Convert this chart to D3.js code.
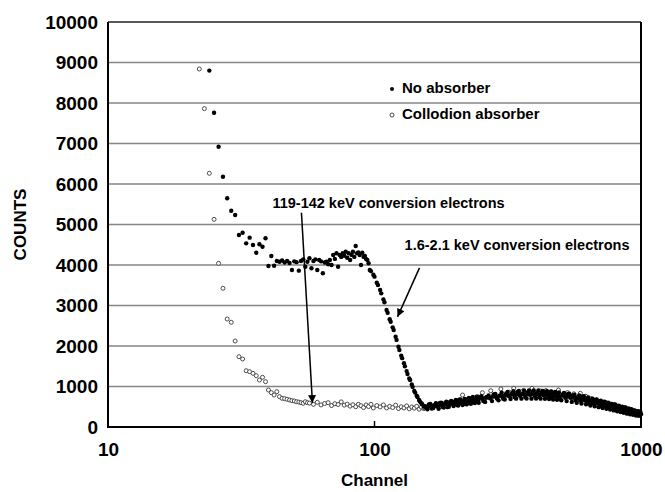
<!DOCTYPE html>
<html>
<head>
<meta charset="utf-8">
<script src="https://cdn.jsdelivr.net/npm/d3@7/dist/d3.min.js"></script>
<style>
  body { margin: 0; background: #fff; }
  svg { display: block; font-family: "Liberation Sans", Arial, sans-serif; font-weight: bold; }
</style>
</head>
<body>
<div id="chart"></div>
<script>
// channel, counts
const noAbsorber = [
  [24,8800],[25,7760],[26,6920],[27,6180],[28,5650],[29,5340],[30,5235],[31,4741],[32,4798],[33,4535],
  [34,4675],[35,4494],[36,4304],[37,4511],[38,4452],[39,4659],[40,3975],[41,4222],[42,3983],[43,4099],
  [44,4080],[45,4110],[46,4060],[47,4100],[48,4050],[49,3877],[50,4090],[51,4070],[52,3860],[53,4100],
  [54,4140],[55,3958],[56,4082],[57,4165],[58,3918],[59,4100],[60,4140],[61,3877],[62,4123],[63,4090],
  [64,3795],[65,4060],[66,4082],[67,4020],[68,4123],[69,4000],[70,4247],[71,4150],[72,4289],[73,3958],
  [74,4247],[75,4200],[76,4289],[77,4230],[78,4328],[79,4180],[80,4289],[81,4123],[82,4250],[83,4328],
  [84,4200],[85,4469],[86,4289],[87,4310],[88,4247],[89,4000],[90,4304],[91,4200],[92,4222],[93,4150],
  [94,4123],[95,4042],[96,3877],[97,3850],[99,3760],[100,3712],[102,3560],[103,3506],
  [105,3383],[106,3300],[108,3150],[109,3080],[111,2890],[112,2820],
  [114,2660],[115,2600],[117,2460],[118,2395],[120,2230],[121,2150],[123,1983],
  [124,1900],[126,1760],[127,1700],[129,1573],[130,1500],[132,1380],[133,1310],
  [135,1200],[136,1160],[138,1050],[139,990],[141,890],[142,850],
  [144,770],[145,740],[147,665],[148,630],[150,585],[151,560],[153,520],[154,505],
  [156,475],[160,555],[164,455],[168,540],[172,510],[176,595],[180,500],[184,575],[188,490],[192,620],
  [196,560],[200,625],[204,543],[208,676],[212,584],[216,632],[220,565],[224,683],[228,621],[232,714],
  [236,612],[240,690],[244,636],[248,737],[256,640],[264,742],[272,706],[280,805],[288,703],[296,775],
  [304,698],[312,826],[320,757],[328,828],[336,737],[344,866],[352,765],[360,823],[368,741],[376,853],
  [384,794],[392,870],[400,760],[408,834],[416,738],[424,846],[432,784],[440,857],[448,755],[456,811],
  [464,732],[472,823],[480,754],[488,830],[496,711],[508,800],[520,722],[532,814],[544,720],[556,780],
  [568,664],[580,732],[592,650],[604,751],[616,659],[628,702],[640,580],[652,663],[664,581],[676,669],
  [688,582],[700,625],[712,518],[724,616],[736,524],[748,557],[760,475],[772,563],[784,486],[796,554],
  [808,443],[820,497],[832,411],[844,490],[856,425],[868,485],[880,375],[892,430],[904,365],[916,442],
  [928,359],[940,411],[952,318],[964,385],[976,322],[988,384],[1000,316],
  [158,440],[162,570],[166,470],[170,590],[174,450],[178,600],[182,480],[186,625],[190,500],[194,645],
  [198,520],[202,670],[206,530],[210,680],[214,545],[218,695],[222,560],[226,715],[230,575],[234,740],
  [238,590],[242,750],[246,600],[252,760],[260,620],[268,780],[276,640],[284,815],[292,660],[300,845],
  [308,680],[316,865],[324,690],[332,885],[340,700],[348,890],[356,700],[364,900],[372,705],[380,905],
  [388,700],[396,900],[404,705],[412,905],[420,700],[428,890],[436,695],[444,885],[452,690],[460,875],
  [468,680],[476,865],[484,670],[492,855],[502,660],[514,840],[526,640],[538,820],[550,620],[562,800],
  [574,600],[586,780],[598,580],[610,760],[622,560],[634,730],[646,530],[658,700],[670,510],[682,680],
  [694,490],[706,650],[718,470],[730,625],[742,450],[754,600],[766,430],[778,570],[790,410],[802,550],
  [814,390],[826,525],[838,370],[850,500],[862,350],[874,480],[886,330],[898,455],[910,315],[922,435],
  [934,300],[946,410],[958,285],[970,390],[982,275],[994,375],
  [155,500],[159,520],[163,505],[167,535],[171,520],[175,550],[179,545],[183,565],[187,560],[191,585],
  [195,575],[199,600],[203,590],[207,620],[211,610],[215,635],[219,625],[223,650],[227,640],[231,665],
  [235,655],[239,680],[243,670],[247,695],[254,700],[262,725],[270,720],[278,750],[286,745],[294,770],
  [302,760],[310,785],[318,775],[326,800],[334,790],[342,810],[350,795],[358,815],[366,800],[374,820],
  [382,805],[390,820],[398,805],[406,818],[414,800],[422,815],[430,795],[438,810],[446,790],[454,800],
  [462,780],[470,790],[478,770],[486,780],[494,760],[514,765],[526,745],[538,750],[550,725],[562,730],
  [574,705],[586,705],[598,680],[610,680],[622,655],[634,655],[646,630],[658,630],[670,605],[682,600],
  [694,580],[706,575],[718,555],[730,550],[742,530],[754,525],[766,505],[778,500],[790,480],[802,480],
  [814,460],[826,455],[838,440],[850,435],[862,420],[874,415],[886,400],[898,395],[910,385],[922,380],
  [934,365],[946,360],[958,350],[970,345],[982,335],[994,330]
];

const collodion = [
  [22,8840],[23,7860],[24,6264],[25,5128],[26,4040],[27,3425],[28,2667],[29,2585],[30,2123],[31,1736],
  [32,1679],[33,1390],[34,1365],[35,1325],[36,1267],[37,1160],[38,1227],[39,1119],[40,914],[41,848],
  [42,790],[43,872],[44,749],[45,709],[46,700],[47,684],[48,667],[49,650],[50,642],[51,625],
  [52,615],[53,600],[54,585],[55,625],[56,600],[57,590],[59,560],[61,610],[63,545],[65,580],
  [67,600],[69,530],[71,575],[73,555],[75,620],[77,540],[79,565],[81,515],[83,550],[85,500],
  [87,560],[89,525],[91,480],[93,545],[95,505],[97,560],[99,470],[102,530],[105,495],[108,545],
  [111,470],[114,510],[117,480],[120,540],[123,455],[126,500],[129,470],[132,520],[135,450],[138,495],
  [141,465],[144,510],[147,440],[150,490],[153,455],[154,470],[160,520],[166,480],[172,555],[178,505],
  [184,590],[190,540],[196,620],[202,575],[208,650],[214,790],[220,680],[226,625],[232,700],[238,650],
  [244,745],[254,847],[262,720],[273,896],[282,780],[298,938],[310,780],[320,860],[333,955],[345,815],
  [360,890],[370,820],[390,955],[400,835],[410,830],[420,890],[430,815],[440,900],[450,820],[460,870],
  [470,800],[490,914],[500,790],[515,780],[530,850],[545,760],[560,820],[575,730],[592,832],[605,690],
  [620,760],[635,660],[650,700],[665,620],[680,665],[695,590],[710,630],[725,560],[740,600],[755,530],
  [770,565],[785,495],[800,540],[815,470],[830,500],[845,440],[860,470],[875,410],[890,440],[905,385],
  [920,410],[935,360],[950,385],[965,340],[980,365],[995,330]
];

const xTickValues = [10, 100, 1000];
const yTickValues = [0, 1000, 2000, 3000, 4000, 5000, 6000, 7000, 8000, 9000, 10000];
const legendLabels = ["No absorber", "Collodion absorber"];

// annotation text + arrow, in channel / counts
const notes = [
  { text: "119-142 keV conversion electrons", at: [41.4, 5500], from: [53.2, 5290], to: [58.5, 590] },
  { text: "1.6-2.1 keV conversion electrons", at: [129.7, 4470], from: [147.5, 3930], to: [122, 2720] }
];

const width = 665, height = 492;
const margin = { top: 22, right: 24, bottom: 65, left: 108 };

const svg = d3.select("#chart").append("svg")
  .attr("width", width)
  .attr("height", height);

const x = d3.scaleLog().domain([10, 1000]).range([margin.left, width - margin.right]);
const y = d3.scaleLinear().domain([0, 10000]).range([height - margin.bottom, margin.top]);

svg.append("defs").append("marker")
  .attr("id", "head")
  .attr("viewBox", "0 0 10 10")
  .attr("refX", 10).attr("refY", 5)
  .attr("markerWidth", 10).attr("markerHeight", 8)
  .attr("markerUnits", "userSpaceOnUse")
  .attr("orient", "auto")
  .append("path").attr("d", "M0,0L10,5L0,10Z").attr("fill", "#000");

// gridlines
svg.append("g")
  .selectAll("line")
  .data(yTickValues.slice(1))
  .join("line")
  .attr("x1", x(10)).attr("x2", x(1000))
  .attr("y1", d => y(d)).attr("y2", d => y(d))
  .attr("stroke", d => d === 10000 ? "#222" : "#858585")
  .attr("stroke-width", 1.4);

// y labels
svg.append("g")
  .attr("transform", `translate(${margin.left},0)`)
  .call(d3.axisLeft(y).tickValues(yTickValues).tickSize(0).tickPadding(10).tickFormat(d3.format("d")))
  .call(g => g.select(".domain").remove())
  .selectAll("text")
  .attr("font-size", 19).attr("font-family", null).attr("fill", "#000");

// x axis labels
svg.append("g")
  .attr("transform", `translate(0,${y(0)})`)
  .call(d3.axisBottom(x).tickValues(xTickValues).tickSize(0).tickPadding(16).tickFormat(d3.format("d")))
  .call(g => g.select(".domain").remove())
  .selectAll("text")
  .attr("font-size", 19).attr("font-family", null).attr("fill", "#000");

// inner ticks
svg.append("g")
  .selectAll("line")
  .data(xTickValues)
  .join("line")
  .attr("x1", d => x(d)).attr("x2", d => x(d))
  .attr("y1", y(0)).attr("y2", y(0) - 6)
  .attr("stroke", "#000").attr("stroke-width", 1.5);

// frame
svg.append("path")
  .attr("d", `M${x(10)},${y(10000)}V${y(0)}H${x(1000)}V${y(10000)}`)
  .attr("fill", "none").attr("stroke", "#000").attr("stroke-width", 2);

// collodion: open circles
svg.append("g")
  .selectAll("circle")
  .data(collodion)
  .join("circle")
  .attr("cx", d => x(d[0]))
  .attr("cy", d => y(d[1]))
  .attr("r", 2)
  .attr("fill", "#fff")
  .attr("stroke", "#3a3a3a")
  .attr("stroke-width", 0.9);

// no absorber: filled dots
svg.append("g")
  .selectAll("circle")
  .data(noAbsorber)
  .join("circle")
  .attr("cx", d => x(d[0]))
  .attr("cy", d => y(d[1]))
  .attr("r", 2.2)
  .attr("fill", "#000");

// annotations
const ann = svg.append("g");
ann.selectAll("line")
  .data(notes)
  .join("line")
  .attr("x1", d => x(d.from[0])).attr("y1", d => y(d.from[1]))
  .attr("x2", d => x(d.to[0])).attr("y2", d => y(d.to[1]))
  .attr("stroke", "#000").attr("stroke-width", 1.5)
  .attr("marker-end", "url(#head)");
ann.selectAll("text")
  .data(notes)
  .join("text")
  .attr("x", d => x(d.at[0])).attr("y", d => y(d.at[1]))
  .attr("dominant-baseline", "middle")
  .attr("font-size", 14.5)
  .text(d => d.text);

// legend
const legend = svg.append("g").attr("transform", "translate(392,89)");
const item = legend.selectAll("g")
  .data(legendLabels)
  .join("g")
  .attr("transform", (d, i) => `translate(0,${i * 26})`);
item.append("circle")
  .attr("r", 2)
  .attr("fill", (d, i) => i === 0 ? "#000" : "#fff")
  .attr("stroke", (d, i) => i === 0 ? "none" : "#3a3a3a")
  .attr("stroke-width", 0.9);
item.append("text")
  .attr("x", 10)
  .attr("dominant-baseline", "middle")
  .attr("font-size", 15)
  .text(d => d);

// axis titles
svg.append("text")
  .attr("x", x(100)).attr("y", 482)
  .attr("text-anchor", "middle").attr("dominant-baseline", "middle")
  .attr("font-size", 17)
  .text("Channel");

svg.append("text")
  .attr("transform", `translate(22,${(y(0) + y(10000)) / 2}) rotate(-90)`)
  .attr("text-anchor", "middle").attr("dominant-baseline", "middle")
  .attr("font-size", 17)
  .text("COUNTS");
</script>
</body>
</html>
